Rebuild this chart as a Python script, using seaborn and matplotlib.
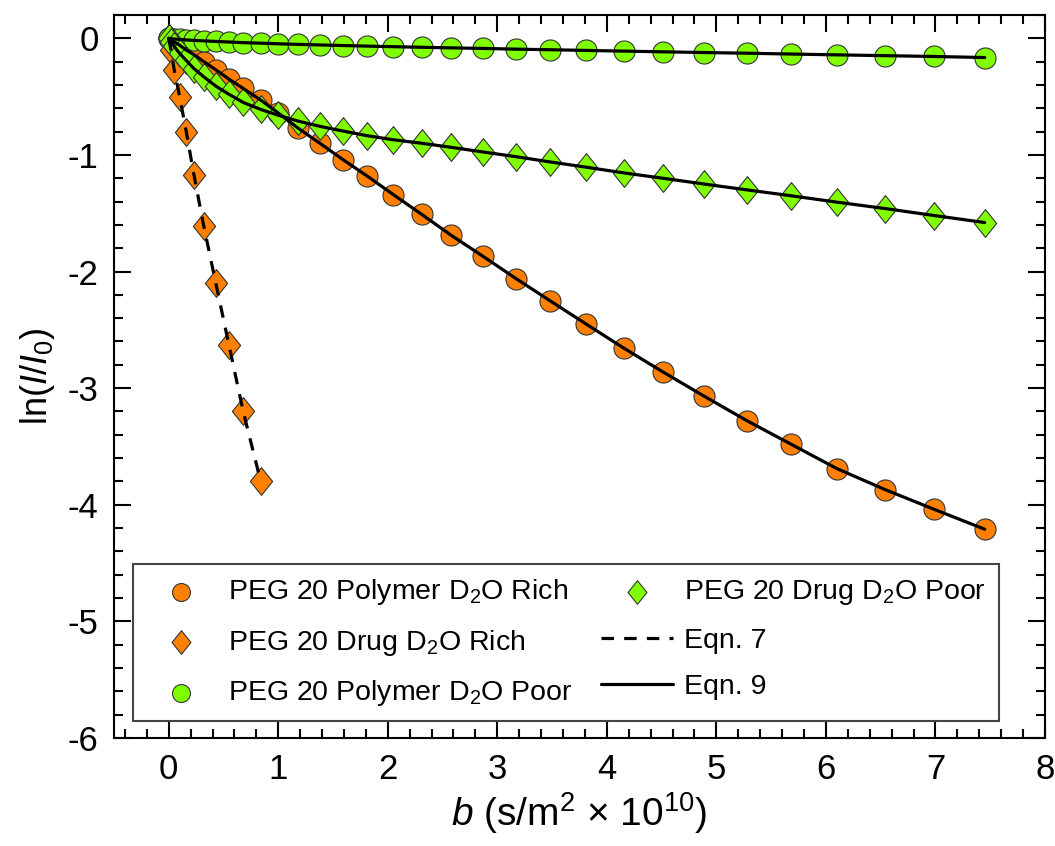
import numpy as np
import pandas as pd
import matplotlib
matplotlib.use("Agg")
import matplotlib.pyplot as plt
from matplotlib.markers import MarkerStyle
from matplotlib.ticker import MultipleLocator
import seaborn as sns

# Diffusion-weighting values b (s/m^2 x 10^10) and measured ln(I/I0)
b_values = [0.00, 0.02, 0.05, 0.10, 0.16, 0.23, 0.32, 0.43, 0.55, 0.68, 0.84,
            1.00, 1.18, 1.38, 1.59, 1.81, 2.05, 2.31, 2.58, 2.87, 3.17, 3.48,
            3.81, 4.16, 4.51, 4.89, 5.28, 5.68, 6.10, 6.54, 6.99, 7.45]

polymer_rich = [0.00, -0.01, -0.03, -0.06, -0.10, -0.14, -0.20, -0.27, -0.35,
                -0.43, -0.53, -0.64, -0.77, -0.90, -1.04, -1.18, -1.34, -1.51,
                -1.69, -1.87, -2.06, -2.25, -2.45, -2.66, -2.86, -3.07, -3.28,
                -3.48, -3.69, -3.87, -4.04, -4.21]

drug_rich_b = [0.00, 0.02, 0.05, 0.10, 0.16, 0.23, 0.32, 0.43, 0.55, 0.68, 0.84]
drug_rich = [0.00, -0.10, -0.27, -0.50, -0.80, -1.17, -1.61, -2.10, -2.63,
             -3.20, -3.80]

polymer_poor = [0.000, -0.003, -0.006, -0.010, -0.014, -0.018, -0.022, -0.027,
                -0.032, -0.037, -0.042, -0.047, -0.052, -0.057, -0.062, -0.067,
                -0.072, -0.077, -0.082, -0.087, -0.093, -0.098, -0.104, -0.110,
                -0.116, -0.122, -0.128, -0.135, -0.142, -0.149, -0.156, -0.165]

drug_poor = [0.00, -0.03, -0.07, -0.13, -0.19, -0.26, -0.33, -0.41, -0.48,
             -0.55, -0.61, -0.66, -0.71, -0.755, -0.795, -0.835, -0.87, -0.90,
             -0.935, -0.975, -1.015, -1.06, -1.105, -1.155, -1.20, -1.25,
             -1.30, -1.35, -1.405, -1.46, -1.52, -1.58]

x_ticks = [0, 1, 2, 3, 4, 5, 6, 7, 8]
y_ticks = [-6, -5, -4, -3, -2, -1, 0]

ORANGE = "#FF8000"
GREEN = "#80FF00"
EDGE = "#333333"

sns.set_theme(style="ticks")
plt.rcParams["font.family"] = ["Liberation Sans", "DejaVu Sans"]
plt.rcParams["mathtext.fontset"] = "custom"
plt.rcParams["mathtext.rm"] = "Liberation Sans"
plt.rcParams["mathtext.it"] = "Liberation Sans:italic"
plt.rcParams["axes.unicode_minus"] = False
for key in ("text.color", "axes.labelcolor", "xtick.color", "ytick.color",
            "axes.edgecolor"):
    plt.rcParams[key] = "black"

fig = plt.figure(figsize=(10.55, 8.46), dpi=100)
ax = fig.add_axes([0.108, 0.1277, 0.8825, 0.8546])

diamond = MarkerStyle([(0, 1), (0.8, 0), (0, -1), (-0.8, 0), (0, 1)])

sns.scatterplot(x=b_values, y=polymer_rich, ax=ax, marker="o", s=230,
                color=ORANGE, edgecolor=EDGE, linewidth=0.8, zorder=3,
                label="PEG 20 Polymer D$_2$O Rich")
sns.scatterplot(x=drug_rich_b, y=drug_rich, ax=ax, marker=diamond, s=400,
                color=ORANGE, edgecolor=EDGE, linewidth=0.8, zorder=3,
                label="PEG 20 Drug D$_2$O Rich")
sns.scatterplot(x=b_values, y=polymer_poor, ax=ax, marker="o", s=230,
                color=GREEN, edgecolor=EDGE, linewidth=0.8, zorder=3,
                label="PEG 20 Polymer D$_2$O Poor")
sns.scatterplot(x=b_values, y=drug_poor, ax=ax, marker=diamond, s=400,
                color=GREEN, edgecolor=EDGE, linewidth=0.8, zorder=3,
                label="PEG 20 Drug D$_2$O Poor")

# Model curves
sns.lineplot(x=drug_rich_b, y=drug_rich, ax=ax, sort=False, estimator=None,
             color="black", linewidth=2.3, linestyle=(0, (3.9, 3.2)),
             zorder=4, label="Eqn. 7")
sns.lineplot(x=b_values, y=polymer_rich, ax=ax, sort=False, estimator=None,
             color="black", linewidth=2.3, zorder=4, label="Eqn. 9")
sns.lineplot(x=b_values, y=polymer_poor, ax=ax, sort=False, estimator=None,
             color="black", linewidth=2.3, zorder=4)
sns.lineplot(x=b_values, y=drug_poor, ax=ax, sort=False, estimator=None,
             color="black", linewidth=2.3, zorder=4)

ax.set_xlim(-0.5, 8)
ax.set_ylim(-6, 0.2)
ax.set_xticks(x_ticks)
ax.set_yticks(y_ticks)
ax.xaxis.set_minor_locator(MultipleLocator(0.2))
ax.yaxis.set_minor_locator(MultipleLocator(0.2))
ax.tick_params(which="both", direction="in", top=True, right=True,
               color="black", width=1.5)
ax.tick_params(which="major", length=12, labelsize=25, pad=11)
ax.tick_params(which="minor", length=6.5)
for side in ax.spines.values():
    side.set_linewidth(1.5)
    side.set_color("black")
    side.set_visible(True)

ax.set_xlabel(r"$\mathit{b}$ (s/m$^{2}$ × 10$^{10}$)", fontsize=28, labelpad=3)
ax.set_ylabel(r"ln($\mathit{I}$/$\mathit{I}_{0}$)", fontsize=26, labelpad=8)

handles, labels = ax.get_legend_handles_labels()
leg = ax.legend(handles, labels, ncol=2, loc="lower left",
                bbox_to_anchor=(0.0204, 0.0235), borderaxespad=0,
                fontsize=20.5, markerscale=0.85, scatterpoints=1,
                handlelength=2.5, handletextpad=0.4, columnspacing=1.0,
                labelspacing=0.72, borderpad=0.45, fancybox=False,
                framealpha=1, edgecolor="#444444")
leg.get_frame().set_linewidth(1.5)

fig.savefig("out.png", dpi=100)
